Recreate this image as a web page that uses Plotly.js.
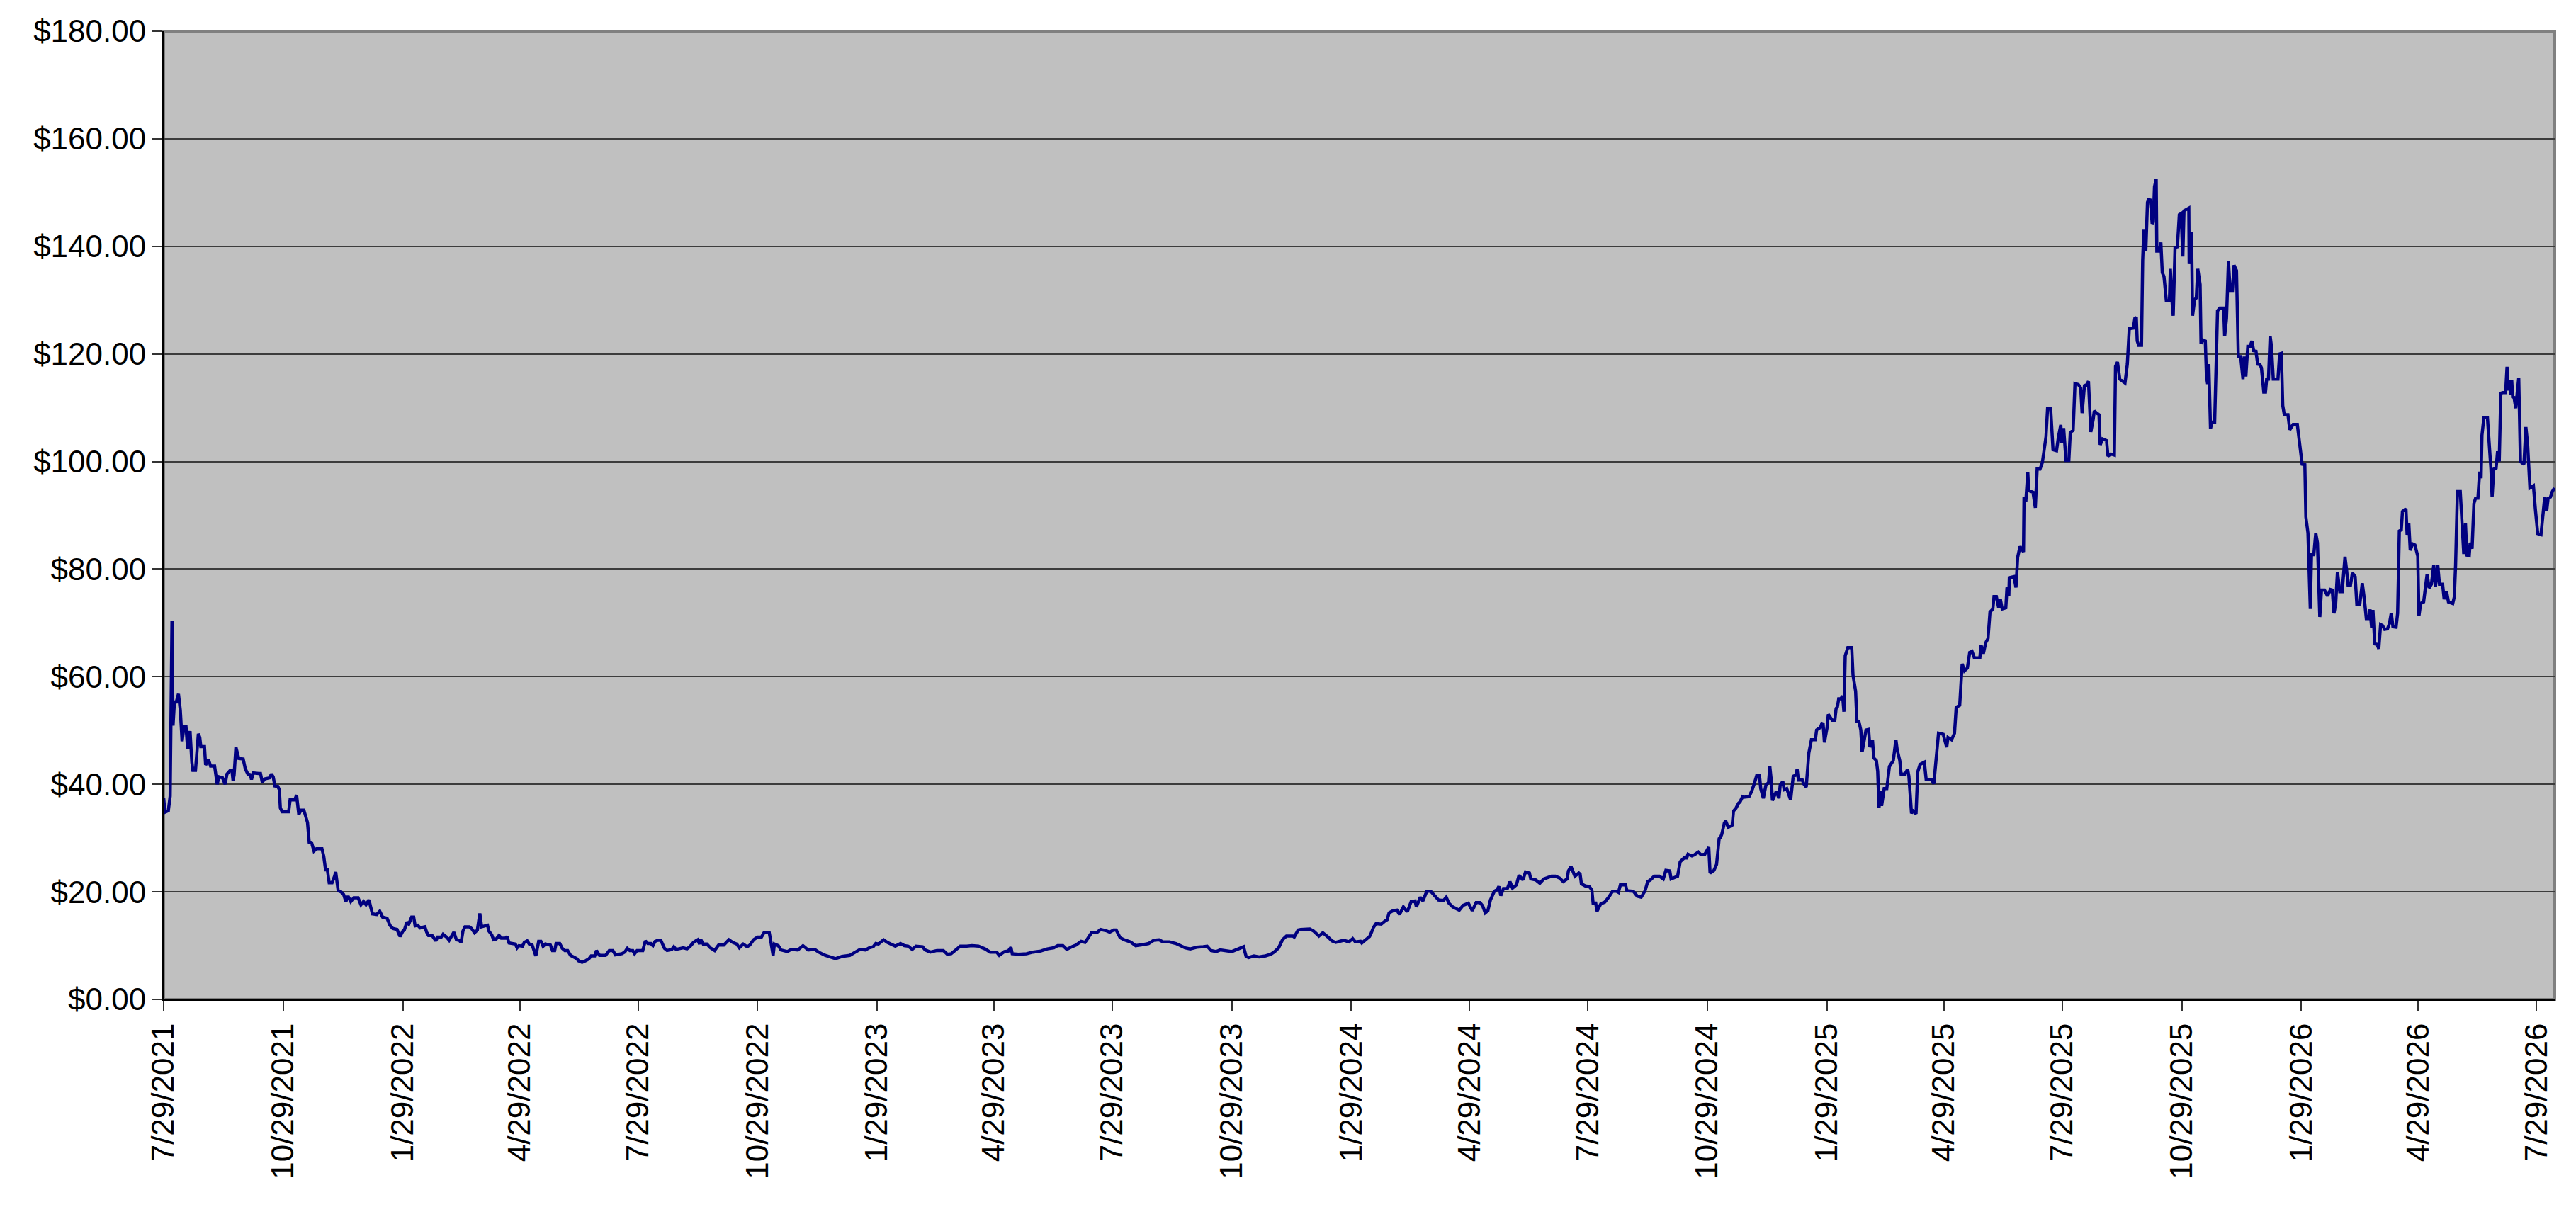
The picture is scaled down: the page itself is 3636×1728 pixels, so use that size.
<!DOCTYPE html>
<html>
<head>
<meta charset="utf-8">
<script src="https://cdn.plot.ly/plotly-3.0.1.min.js"></script>
<style>
html, body { margin: 0; padding: 0; background: #ffffff; }
#chart { width: 3636px; height: 1728px; }
</style>
</head>
<body>
<div id="chart"></div>
<script>
// ---- DATA (day offset from 7/29/2021, price in $) ----
const startDate = Date.UTC(2021, 6, 29);
const lastAxisDay = 1840;

const tickLabels = ["7/29/2021","10/29/2021","1/29/2022","4/29/2022","7/29/2022","10/29/2022",
  "1/29/2023","4/29/2023","7/29/2023","10/29/2023","1/29/2024","4/29/2024","7/29/2024",
  "10/29/2024","1/29/2025","4/29/2025","7/29/2025","10/29/2025","1/29/2026","4/29/2026","7/29/2026"];

const yTickValues = [0, 20, 40, 60, 80, 100, 120, 140, 160, 180];

const prices2021 = [[0,37.5],[1,34.8],[3.6,35.1],[5,37.8],[6.4,70.4],[7.2,50.9],[8.3,55.3],[9.7,55.3],[11.4,56.8],[12.8,53.8],[14.2,48.0],[15.6,50.7],[17.2,50.7],[18.4,46.8],[19.2,46.8],[20.3,49.9],[21.7,44.1],[22.5,42.6],[24.5,42.6],[26.7,49.4],[27.8,48.7],[28.6,47.0],[31.4,47.0],[32.3,43.6],[34.5,44.6],[36.1,43.4],[39.2,43.4],[41.2,40.0],[42.5,41.4],[45.3,41.2],[47.3,40.0],[48.7,41.9],[50.9,42.5],[52.6,42.5],[53.4,40.7],[54.2,41.7],[55.6,46.9],[57.8,44.8],[61.2,44.7],[62.8,42.9],[64.8,41.9],[66.7,41.8],[67.6,40.9],[69,42.1],[73.1,42.0],[74.5,42.0],[75.9,40.4],[77.9,41.0],[81.5,41.2],[82.9,41.9],[84.3,41.4],[85.6,39.7],[87.9,39.6],[89,39.0],[89.8,35.6],[91.2,34.9],[96.2,34.9],[97.3,37.1],[100.9,37.1],[102.3,38.0],[104,34.4],[105.7,35.2],[107.9,35.2],[110.7,32.9],[112,29.2],[114,29.0],[115.7,27.6],[117.6,28.0],[121.8,28.0],[123.2,26.6],[124.6,24.1],[126,24.1],[127.4,21.7],[129.6,21.7],[131.5,22.9],[132.4,23.7],[134.3,20.2],[136.5,20.0],[138.5,19.5],[140.2,18.2],[141.9,19.2],[144,18.2],[146.3,18.9],[149.6,18.9],[151.8,17.6],[153.8,18.2],[155.7,17.6],[158,18.5]];

const prices2022 = [[159.3,17.2],[160.7,15.9],[164,15.8],[166.3,16.4],[168.5,15.3],[171.9,15.1],[174.1,13.8],[176.3,13.2],[179.6,13.0],[181.9,11.7],[184.1,12.7],[185.2,12.9],[187.2,14.4],[188.6,14.0],[190.8,15.3],[192.4,15.3],[193.5,13.7],[195.5,13.8],[197.4,13.3],[201,13.5],[202.4,12.5],[203.8,11.9],[206.6,11.9],[209.4,10.9],[210.8,11.6],[213.6,11.6],[215,12.1],[217.7,11.6],[219.7,11.0],[221.4,11.7],[223.3,12.5],[225.3,11.1],[227.5,11.0],[228.9,10.6],[230.3,12.7],[231.9,13.5],[235.3,13.5],[236.9,13.2],[239.2,12.4],[241.4,12.9],[243.3,16.0],[244.7,13.5],[247.5,13.7],[249.2,13.8],[250.3,12.7],[252.5,12.0],[253.9,11.1],[255.8,11.2],[258.1,11.9],[259.8,11.4],[263.1,11.4],[264.2,11.7],[265.8,10.5],[270.6,10.3],[272,9.6],[273.4,10.0],[276.1,9.9],[277.5,10.6],[279.7,10.9],[281.4,10.3],[283.6,10.1],[285.3,9.0],[286.4,8.1],[288.6,10.8],[290.3,10.8],[292,9.9],[293.7,10.3],[297.6,10.1],[299.2,9.1],[300.9,9.1],[302,10.4],[304.8,10.4],[306.7,9.5],[308.7,9.1],[310.9,9.1],[313.1,8.2],[315.9,7.8],[317.8,7.6],[319.2,7.2],[322,6.9],[324.8,7.2],[327,7.5],[329,8.1],[331.7,8.1],[333.1,9.1],[335.4,8.2],[340.1,8.2],[342.9,9.1],[345.7,9.1],[347.6,8.3],[352.6,8.5],[354.8,8.8],[356.8,9.5],[358.7,9.1],[361,9.1],[362.4,8.5],[364.3,9.1],[368.7,9.1],[370.7,10.9],[372.6,10.4],[374.9,10.4],[376.5,10.0],[378.2,10.8],[380.4,11.0],[382.6,11.0],[385.4,9.5],[387.4,9.1],[391,9.3],[392.6,9.8],[394.3,9.3],[399.9,9.6],[402.7,9.4],[404.9,9.8],[407.7,10.6],[409.6,10.9],[411,11.1],[412.4,10.3],[413.2,11.2],[415.2,10.3],[418,10.3],[420.7,9.6],[424,9.1],[427,10.1],[431,10.1],[435,11.1],[438,10.6],[441,10.3],[443,9.6],[446,10.3],[449,9.8],[451,10.1],[454,11.1],[457,11.6],[460,11.6],[462,12.4],[466,12.4],[467,11.1],[469,8.2],[470,10.3],[473,10.0],[475,9.2],[480,8.9],[483,9.3],[488,9.2],[492,10.0],[496,9.2],[501,9.3],[504,8.8],[509,8.2],[514,7.9],[517,7.6],[522,8.0]];

const prices2023 = [[528,8.2],[533,8.9],[536,9.3],[540,9.2],[543,9.6],[546,9.8],[548,10.4],[550,10.3],[554,11.1],[557,10.6],[560,10.2],[563,9.9],[567,10.4],[570,10.0],[573,9.9],[576,9.3],[579,9.9],[584,9.8],[586,9.2],[590,8.8],[595,9.1],[600,9.1],[603,8.4],[606,8.5],[610,9.3],[613,9.9],[618,9.9],[622,10.0],[627,9.9],[632,9.4],[636,8.8],[641,8.8],[643,8.2],[647,8.9],[650,9.0],[652,9.7],[653,8.5],[658,8.4],[664,8.5],[669,8.8],[675,9.0],[680,9.4],[685,9.6],[688,10.0],[692,10.0],[695,9.3],[699,9.8],[702,10.1],[706,10.8],[709,10.6],[711,11.3],[714,12.4],[718,12.4],[721,13.0],[725,12.8],[728,12.5],[731,12.9],[733,12.9],[736,11.5],[739,11.1],[744,10.7],[748,10.0],[754,10.2],[758,10.4],[762,11.0],[766,11.1],[769,10.7],[774,10.7],[779,10.4],[782,10.0],[786,9.6],[790,9.4],[795,9.7],[800,9.8],[803,9.9],[806,9.1],[810,8.9],[813,9.2],[818,9.0],[822,8.9],[826,9.3],[830,9.8],[831,9.8],[833,8.0],[835,7.8],[839,8.1],[843,7.9],[848,8.1],[852,8.4],[855,8.9],[858,9.6],[861,11.1],[864,11.8],[869,11.8],[870,11.6],[873,12.9],[875,13.0],[882,13.1],[885,12.7]];

const prices2024 = [[889,11.8],[892,12.4],[896,11.6],[899,10.9],[902,10.6],[908,11.0],[912,10.7],[915,11.3],[917,10.7],[921,10.8],[922,10.5],[925,11.2],[928,11.7],[929,12.2],[931,13.4],[933,14.1],[937,14.0],[940,14.6],[941.5,14.8],[943,16.1],[946,16.5],[949,16.6],[951,15.8],[954,17.2],[957,16.3],[960,18.2],[963,18.3],[964,17.2],[967,19.0],[969,18.3],[972,20.1],[975,20.1],[978,19.2],[981,18.5],[985,18.4],[987,19.0],[989,17.9],[992,17.2],[997,16.6],[1000,17.5],[1004,17.9],[1007,16.5],[1010,18.0],[1013,18.0],[1015,17.4],[1017,16.1],[1019,16.5],[1021,18.5],[1024,20.1],[1026,20.4],[1027.5,21.0],[1029,19.3],[1031,20.6],[1034,20.6],[1036,21.9],[1038,20.7],[1041,21.3],[1043,23.1],[1046,22.2],[1048,23.7],[1051,23.5],[1052,22.4],[1056,22.2],[1059,21.6],[1062,22.4],[1064,22.6],[1068,22.9],[1071,22.9],[1074,22.6],[1077,21.9],[1080,22.4],[1081,23.9],[1083,24.7],[1086,22.9],[1089,23.5],[1090,23.3],[1091,21.5],[1094,21.1],[1097,21.0],[1099,20.4],[1100,17.9],[1102,17.9],[1103,16.4],[1106,17.8],[1109,18.1],[1112,19.0],[1115,20.1],[1118,20.1],[1119.5,19.9],[1121,21.3],[1125,21.3],[1126,20.2],[1131,20.1],[1134,19.2],[1137,19.0],[1140,20.2],[1142,21.9],[1144,22.2],[1147,22.9],[1151,22.9],[1154,22.4],[1156,24.0],[1159,23.9],[1160,22.4],[1163,22.8],[1165,22.9],[1167,25.6],[1170,26.3],[1172,26.3],[1173,27.0],[1176,26.7],[1178,26.9],[1181,27.4],[1183,26.9],[1186,27.0],[1188,28.1],[1189,28.3],[1190,23.5],[1193,24.0],[1195,25.1],[1197,29.9],[1198,30.1],[1199,30.7],[1201,32.8],[1202,33.2],[1204,32.0],[1207,32.4],[1208,35.0],[1210,35.6],[1212,36.5],[1213,36.7],[1215,37.7],[1216,37.6],[1220,37.7],[1222,38.7],[1224,40.1],[1226,41.7],[1228,41.7],[1229,39.2],[1231,37.4],[1233,39.9],[1235,40.3],[1236,43.3],[1237,41.0],[1238,37.0],[1241,38.7],[1243,37.4],[1244,39.9],[1246,40.5],[1247,39.0],[1249,39.2]];

const prices2025 = [[1252,37.1],[1254,41.5],[1256,41.7],[1257,42.8],[1258,40.8],[1261,40.8],[1262,40.1],[1264,39.5],[1266,45.8],[1268,48.3],[1271,48.3],[1272,50.1],[1275,50.6],[1276,51.3],[1277,51.2],[1278,47.8],[1280,50.5],[1281,53.0],[1284,51.9],[1286,51.9],[1287,54.1],[1288,54.4],[1289,55.9],[1290.5,55.9],[1292,56.4],[1293,53.5],[1294,63.9],[1296,65.4],[1299,65.4],[1300,60.3],[1302,57.3],[1303,51.7],[1304.5,51.7],[1306,50.1],[1307,46.0],[1310,50.1],[1312,50.2],[1313,46.9],[1315,48.2],[1316,44.9],[1318,44.4],[1319,42.4],[1320,35.6],[1321,38.7],[1322,36.0],[1324,39.2],[1326,39.2],[1327,42.1],[1328,43.3],[1331,44.4],[1333,48.3],[1334,46.4],[1336,44.4],[1337,41.9],[1340,41.9],[1342,42.8],[1343,41.5],[1345,34.6],[1346,35.1],[1348.5,34.5],[1349.8,42.3],[1351.6,43.7],[1354.9,44.1],[1356.3,40.9],[1360.3,40.9],[1362.2,40.1],[1365.8,49.5],[1369.4,49.3],[1372.1,46.9],[1373.1,48.7],[1375.8,48.3],[1378.1,49.5],[1379.4,54.3],[1382.1,54.7],[1384,62.4],[1385.8,61.1],[1388,61.6],[1389.8,64.5],[1391.6,64.7],[1393.4,63.5],[1397.6,63.5],[1398.5,65.9],[1400.3,64.3],[1402.1,66.3],[1403.9,67.1],[1405.4,72.0],[1407.6,72.6],[1408.5,74.9],[1410.3,74.9],[1412.1,72.8],[1413.4,74.4],[1414.8,72.6],[1417.6,72.8],[1418.5,76.6],[1419.9,75.0],[1420.3,78.4],[1423.9,78.6],[1425.4,76.6],[1426.7,82.2],[1428.5,84.2],[1431.2,83.2],[1431.6,93.4],[1433,92.6],[1434.5,98.0],[1435.2,94.6],[1438.5,94.3],[1440.3,91.4],[1441.7,98.6],[1443.9,98.6],[1445.7,99.8],[1448.5,104.6],[1449.7,109.8],[1452.1,109.8],[1453.9,102.2],[1456.6,102.0],[1458.1,104.6],[1459.9,106.8],[1460.6,103.4],[1462.1,106.2],[1463.9,100.2],[1466.1,100.2],[1467.2,105.4],[1469.4,105.8],[1470.8,114.5],[1473.4,114.3],[1475.2,113.7],[1476.3,109.0],[1478.1,114.1],[1479.9,114.3],[1481.2,114.9],[1483,105.5],[1484.8,107.8],[1485.7,109.4],[1487.5,109.0],[1489.3,108.7],[1490.2,103.1],[1492.1,104.2],[1495.1,103.9],[1496.2,101.0],[1498.4,101.4],[1501.1,101.2],[1502,117.7],[1503.5,118.5],[1505.3,115.3],[1509.3,114.6],[1511.1,118.1],[1512.6,124.7],[1515.7,124.8],[1516.9,126.6],[1518,126.8],[1518.7,122.4],[1519.8,121.6],[1522,121.6],[1522.9,137.4],[1523.8,143.1],[1525.3,139.1],[1526.6,148.2],[1527.5,148.7],[1528.9,148.6],[1530.2,144.2],[1531,144.5],[1532,151.1],[1533.3,152.5],[1533.8,139.1],[1535.6,139.1],[1536.9,140.7],[1538,135.1],[1539.3,134.4],[1541.1,129.9],[1543.5,129.9],[1544.2,135.8],[1545.3,130.4],[1546.4,127.1],[1547.8,139.8],[1549.6,139.9],[1551.1,145.9],[1552.5,146.1],[1553.8,138.1],[1554.7,146.6],[1556.9,146.9],[1558.4,147.1],[1558.7,136.7],[1559.8,142.4],[1560.5,142.4],[1561.3,127.1],[1562.9,130.1],[1564.2,130.4],[1565.3,135.8],[1567.1,132.9],[1567.8,121.9],[1569.3,122.6],[1571.1,122.4],[1572,115.8],[1572.9,114.4],[1573.8,118.1],[1575.1,106.1],[1576.2,107.3],[1578.3,107.3],[1579.3,115.1],[1580.5,128.0],[1582.3,128.5],[1585.2,128.5],[1586,123.3],[1587.4,126.6],[1588.9,137.2],[1590.2,131.8],[1592,131.8],[1593.2,136.5],[1595.1,135.5],[1596.5,119.5],[1598.3,119.5],[1600.1,115.3],[1601,119.5],[1602.3,115.8],[1603.8,121.4],[1605.5,121.4],[1607,122.4],[1608.3,120.6],[1610.1,120.5],[1611.4,118.1],[1613.2,118.0],[1614.3,117.4]];

const prices2026 = [[1616.1,112.9],[1617.4,112.9],[1618.3,115.3],[1619.7,115.3],[1621,123.3],[1622,121.4],[1623.4,115.3],[1627,115.3],[1628.3,120.0],[1629.6,120.1],[1630.7,110.4],[1631.9,108.7],[1634.7,108.7],[1636.1,105.9],[1638.7,106.9],[1641.9,106.9],[1643.8,103.1],[1645.6,99.5],[1647.7,99.4],[1648.5,89.7],[1650.1,86.7],[1651.9,72.6],[1652.8,82.7],[1654.6,82.7],[1656.1,86.7],[1657.4,84.9],[1659.2,71.1],[1660.5,76.1],[1662.8,76.1],[1665.2,75.0],[1667.4,76.2],[1668.8,76.1],[1670.1,71.8],[1671.4,73.5],[1672.8,79.5],[1674.6,75.8],[1676.4,75.8],[1677.3,78.8],[1678.6,82.3],[1679.7,80.1],[1681,77.0],[1682.8,77.0],[1684.3,79.3],[1686.4,78.6],[1687.7,73.5],[1690,73.5],[1691.9,77.4],[1693.5,74.4],[1695,70.8],[1696.8,70.8],[1697.9,72.5],[1699.1,69.1],[1700.1,72.4],[1701.5,66.1],[1703.3,66.0],[1704.6,65.2],[1706,69.7],[1707.5,69.5],[1709.1,68.8],[1711.3,68.9],[1712.8,69.9],[1714.2,71.8],[1715.5,69.3],[1717.9,69.2],[1719.1,71.8],[1720.4,87.1],[1721.9,87.3],[1722.8,90.7],[1725.5,91.2],[1726.4,86.4],[1727.7,88.5],[1728.8,83.5],[1730.6,84.7],[1732.4,84.5],[1734.6,82.4],[1735.5,71.3],[1736.8,73.6],[1739.1,73.9],[1740.4,76.9],[1741.8,79.1],[1743.3,76.5],[1745.1,77.2],[1746.9,80.7],[1748.2,76.7],[1750,80.7],[1751.3,77.2],[1753.7,77.2],[1754.9,74.4],[1756.7,75.9],[1758.2,73.9],[1761.5,73.6],[1762.7,74.8],[1763.7,80.7],[1765.1,94.4],[1767.3,94.4],[1768.7,88.2],[1770,82.8],[1771.3,88.5],[1772.4,82.6],[1774.2,82.5],[1774.9,84.9],[1776.4,83.8],[1777.8,92.2],[1779.1,93.2],[1780.9,93.2],[1782.2,98.1],[1783.3,96.9],[1784,104.9],[1785.5,108.2],[1788.2,108.2],[1789.4,104.2],[1790.9,98.6],[1791.8,93.4],[1793.1,98.6],[1794.9,98.8],[1796,101.9],[1797.3,100.0],[1798.5,112.7],[1800,112.8],[1802.2,112.8],[1803.3,117.6],[1804,113.2],[1805.1,115.1],[1806.3,112.5],[1806.9,115.1],[1807.6,112.0],[1808.7,111.9],[1810,109.9],[1811.3,113.2],[1812.3,115.5],[1813.6,100.0],[1816.3,99.5],[1817.8,106.4],[1819.1,103.3],[1820.9,95.1],[1823.6,95.5],[1825.1,91.1],[1826.9,86.6],[1829.4,86.4],[1830.9,90.1],[1832.3,93.4],[1833.8,90.8],[1834.9,93.2],[1836.7,93.4],[1838.1,94.4],[1839.8,95.1]];

// ---- BUILD ----
const DAY_MS = 86400000;
const allPrices = [].concat(prices2021, prices2022, prices2023, prices2024, prices2025, prices2026);
const xs = allPrices.map(p => startDate + p[0] * DAY_MS);
const ys = allPrices.map(p => p[1]);

function labelToMs(lbl) {
  const parts = lbl.split('/').map(Number);
  return Date.UTC(parts[2], parts[0] - 1, parts[1]);
}
const tickVals = tickLabels.map(labelToMs);
const yTickText = yTickValues.map(v => '$' + v.toFixed(2));

const fontFamily = '"Liberation Sans", Arial, Helvetica, sans-serif';

const trace = {
  type: 'scatter',
  mode: 'lines',
  x: xs,
  y: ys,
  line: { color: '#000080', width: 4.5 },
  hoverinfo: 'skip',
  showlegend: false
};

const layout = {
  width: 3636,
  height: 1728,
  margin: { l: 231, r: 30, t: 44, b: 317, pad: 0 },
  paper_bgcolor: '#ffffff',
  plot_bgcolor: '#c0c0c0',
  font: { family: fontFamily, size: 44, color: '#000000' },
  showlegend: false,
  xaxis: {
    type: 'date',
    range: [startDate, startDate + lastAxisDay * DAY_MS],
    tickmode: 'array',
    tickvals: tickVals,
    ticktext: tickLabels,
    tickangle: -90,
    ticks: 'outside',
    ticklen: 14,
    tickwidth: 2,
    tickcolor: '#333333',
    showgrid: false,
    zeroline: false,
    showline: true,
    linecolor: '#000000',
    linewidth: 2,
    tickfont: { family: fontFamily, size: 44, color: '#000000' },
    fixedrange: true
  },
  yaxis: {
    range: [0, 180],
    tickmode: 'array',
    tickvals: yTickValues,
    ticktext: yTickText,
    ticks: 'outside',
    ticklen: 14,
    tickwidth: 2,
    tickcolor: '#333333',
    showgrid: true,
    gridcolor: '#3c3c3c',
    gridwidth: 2,
    zeroline: false,
    showline: true,
    linecolor: '#000000',
    linewidth: 2,
    tickfont: { family: fontFamily, size: 44, color: '#000000' },
    fixedrange: true
  },
  shapes: [{
    type: 'rect', xref: 'paper', yref: 'paper',
    x0: 0, x1: 1, y0: 0, y1: 1,
    line: { color: '#808080', width: 4 },
    fillcolor: 'rgba(0,0,0,0)',
    layer: 'below'
  }]
};

Plotly.newPlot('chart', [trace], layout, { staticPlot: true, displayModeBar: false });
</script>
</body>
</html>
